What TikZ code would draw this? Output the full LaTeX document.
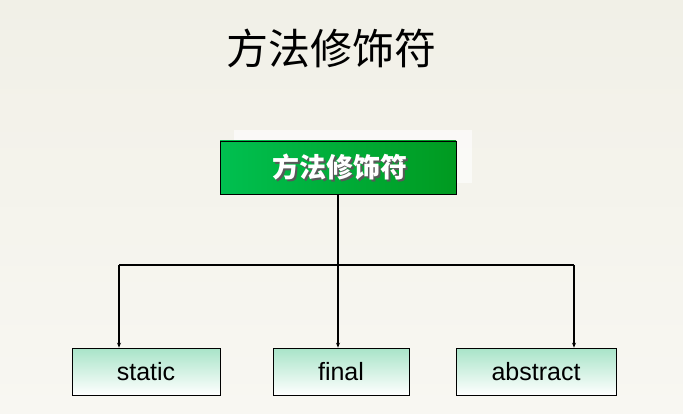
\documentclass[tikz,border=0pt]{standalone}
\usepackage{fontspec}
\setmainfont{Liberation Sans}
\newfontfamily\cjk{Noto Sans CJK SC}
\usetikzlibrary{arrows.meta}
\definecolor{bgA}{HTML}{F1F0E7}
\definecolor{bgB}{HTML}{F8F7F2}
\definecolor{gA}{HTML}{00C050}
\definecolor{gB}{HTML}{009A20}
\definecolor{mA}{HTML}{A8E4C8}
\tikzset{
  x=1pt,y=1pt,
  leaf/.style={draw=black,line width=0.6pt,top color=mA,bottom color=white,minimum height=47pt,font=\fontsize{25}{30}\selectfont,inner sep=0pt},
  rootfont/.style={font=\cjk\bfseries\fontsize{27}{32}\selectfont,inner sep=0pt},
  conn/.style={line width=1.2pt},
  arr/.style={conn,-{Stealth[length=5pt,width=4pt]}}
}
\begin{document}
\begin{tikzpicture}
\shade[top color=bgA,bottom color=bgB] (0,0) rectangle (683,413);
\useasboundingbox (0,0) rectangle (683,413);
\node[font=\cjk\fontsize{42}{48}\selectfont,inner sep=0pt] (title) at (331,365) {方法修饰符};
\fill[white,opacity=0.6] (234,283) rectangle (472,230);
\node[draw=black,line width=0.6pt,left color=gA,right color=gB,minimum width=236pt,minimum height=53pt,inner sep=0pt] (root) at (338,245.5) {};
\node[rootfont,text=black!65] (rootsh) at (342,244) {方法修饰符};
\node[rootfont,text=white] (rootlbl) at (340,246) {方法修饰符};
\node[leaf,minimum width=148pt] (s) at (146,41.5) {static};
\node[leaf,minimum width=136pt] (f) at (341,41.5) {final};
\node[leaf,minimum width=160pt] (a) at (536,41.5) {abstract};
\coordinate (j) at (338,148);
\coordinate (jl) at (119,148);
\coordinate (jr) at (574,148);
\draw[conn] (root.south -| j) -- (j);
\draw[conn] (jl) -- (jr);
\draw[arr] (jl) -- (jl |- s.north);
\draw[arr] (j) -- (j |- f.north);
\draw[arr] (jr) -- (jr |- a.north);
\end{tikzpicture}
\end{document}
